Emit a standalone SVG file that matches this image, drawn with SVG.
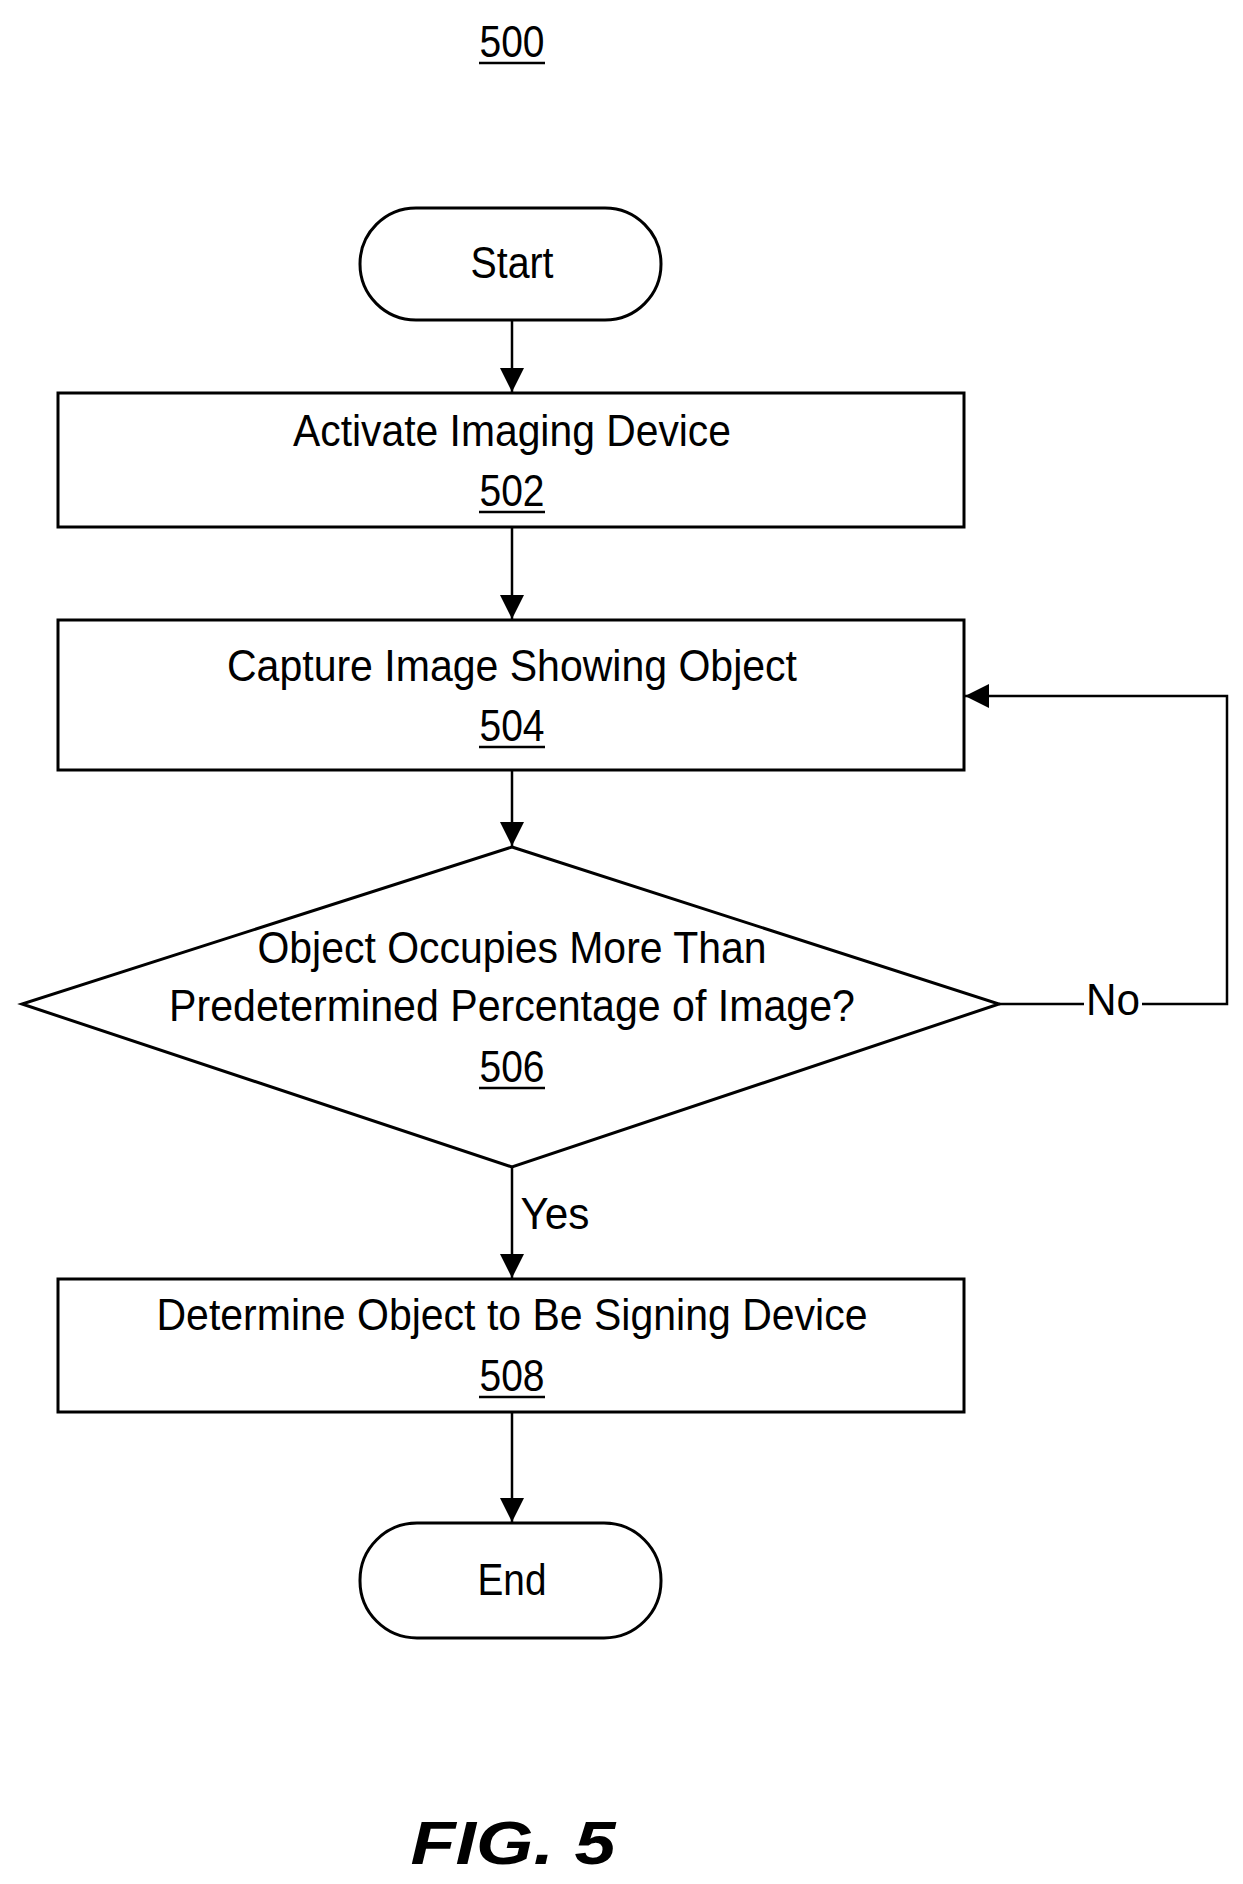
<svg xmlns="http://www.w3.org/2000/svg" width="1243" height="1884" viewBox="0 0 1243 1884">
<defs>
<marker id="ah" viewBox="0 0 10 10" refX="10" refY="5" markerWidth="10" markerHeight="10" markerUnits="userSpaceOnUse" orient="auto"><path d="M0,0L10,5L0,10z" fill="#000"/></marker>
<marker id="ah2" viewBox="0 0 10 10" refX="10" refY="5" markerWidth="24" markerHeight="24" markerUnits="userSpaceOnUse" orient="auto"><path d="M0,0L10,5L0,10z" fill="#000"/></marker>
<style>
.s{fill:#fff;stroke:#000;stroke-width:3}
.t{font-family:"Liberation Sans",Arial,sans-serif;font-size:44px;text-anchor:middle;fill:#000}
.c{fill:none;stroke:#000;stroke-width:2.5}
.u{stroke:#000;stroke-width:2.5}
</style>
</defs>
<g id="title"><text class="t" x="512" y="57" textLength="65" lengthAdjust="spacingAndGlyphs">500</text><line class="u" x1="479" y1="63" x2="545" y2="63"/></g>
<g id="start"><rect class="s" x="360" y="208" width="301" height="112" rx="56"/><text class="t" x="512" y="278" textLength="83" lengthAdjust="spacingAndGlyphs">Start</text></g>
<g id="n502"><rect class="s" x="58" y="393" width="906" height="134"/><text class="t" x="512" y="446" textLength="438" lengthAdjust="spacingAndGlyphs">Activate Imaging Device</text><text class="t" x="512" y="506" textLength="65" lengthAdjust="spacingAndGlyphs">502</text><line class="u" x1="479" y1="512" x2="545" y2="512"/></g>
<g id="n504"><rect class="s" x="58" y="620" width="906" height="150"/><text class="t" x="512" y="681" textLength="570" lengthAdjust="spacingAndGlyphs">Capture Image Showing Object</text><text class="t" x="512" y="741" textLength="65" lengthAdjust="spacingAndGlyphs">504</text><line class="u" x1="479" y1="747" x2="545" y2="747"/></g>
<g id="n506"><polygon class="s" points="512,847 999,1004 512,1167 22,1004"/><text class="t" x="512" y="963" textLength="509" lengthAdjust="spacingAndGlyphs">Object Occupies More Than</text><text class="t" x="512" y="1021" textLength="686" lengthAdjust="spacingAndGlyphs">Predetermined Percentage of Image?</text><text class="t" x="512" y="1082" textLength="65" lengthAdjust="spacingAndGlyphs">506</text><line class="u" x1="479" y1="1088" x2="545" y2="1088"/></g>
<g id="n508"><rect class="s" x="58" y="1279" width="906" height="133"/><text class="t" x="512" y="1330" textLength="711" lengthAdjust="spacingAndGlyphs">Determine Object to Be Signing Device</text><text class="t" x="512" y="1391" textLength="65" lengthAdjust="spacingAndGlyphs">508</text><line class="u" x1="479" y1="1397" x2="545" y2="1397"/></g>
<g id="end"><rect class="s" x="360" y="1523" width="301" height="115" rx="57"/><text class="t" x="512" y="1595" textLength="69" lengthAdjust="spacingAndGlyphs">End</text></g>
<g id="connectors">
<line class="c" x1="512" y1="320" x2="512" y2="392" marker-end="url(#ah2)"/>
<line class="c" x1="512" y1="527" x2="512" y2="619" marker-end="url(#ah2)"/>
<line class="c" x1="512" y1="770" x2="512" y2="846" marker-end="url(#ah2)"/>
<line class="c" x1="512" y1="1167" x2="512" y2="1278" marker-end="url(#ah2)"/>
<line class="c" x1="512" y1="1412" x2="512" y2="1522" marker-end="url(#ah2)"/>
<polyline class="c" points="999,1004 1227,1004 1227,696 965,696" marker-end="url(#ah2)"/>
<rect x="1084" y="982" width="58" height="44" fill="#fff"/>
<text class="t" x="1113" y="1015" textLength="54" lengthAdjust="spacingAndGlyphs">No</text>
<text class="t" x="555" y="1229" textLength="69" lengthAdjust="spacingAndGlyphs">Yes</text>
</g>
<g id="fig"><text x="513" y="1864" style="font-family:'Liberation Sans',Arial,sans-serif;font-size:62px;font-weight:bold;font-style:italic;text-anchor:middle" textLength="205" lengthAdjust="spacingAndGlyphs">FIG. 5</text></g>
</svg>
